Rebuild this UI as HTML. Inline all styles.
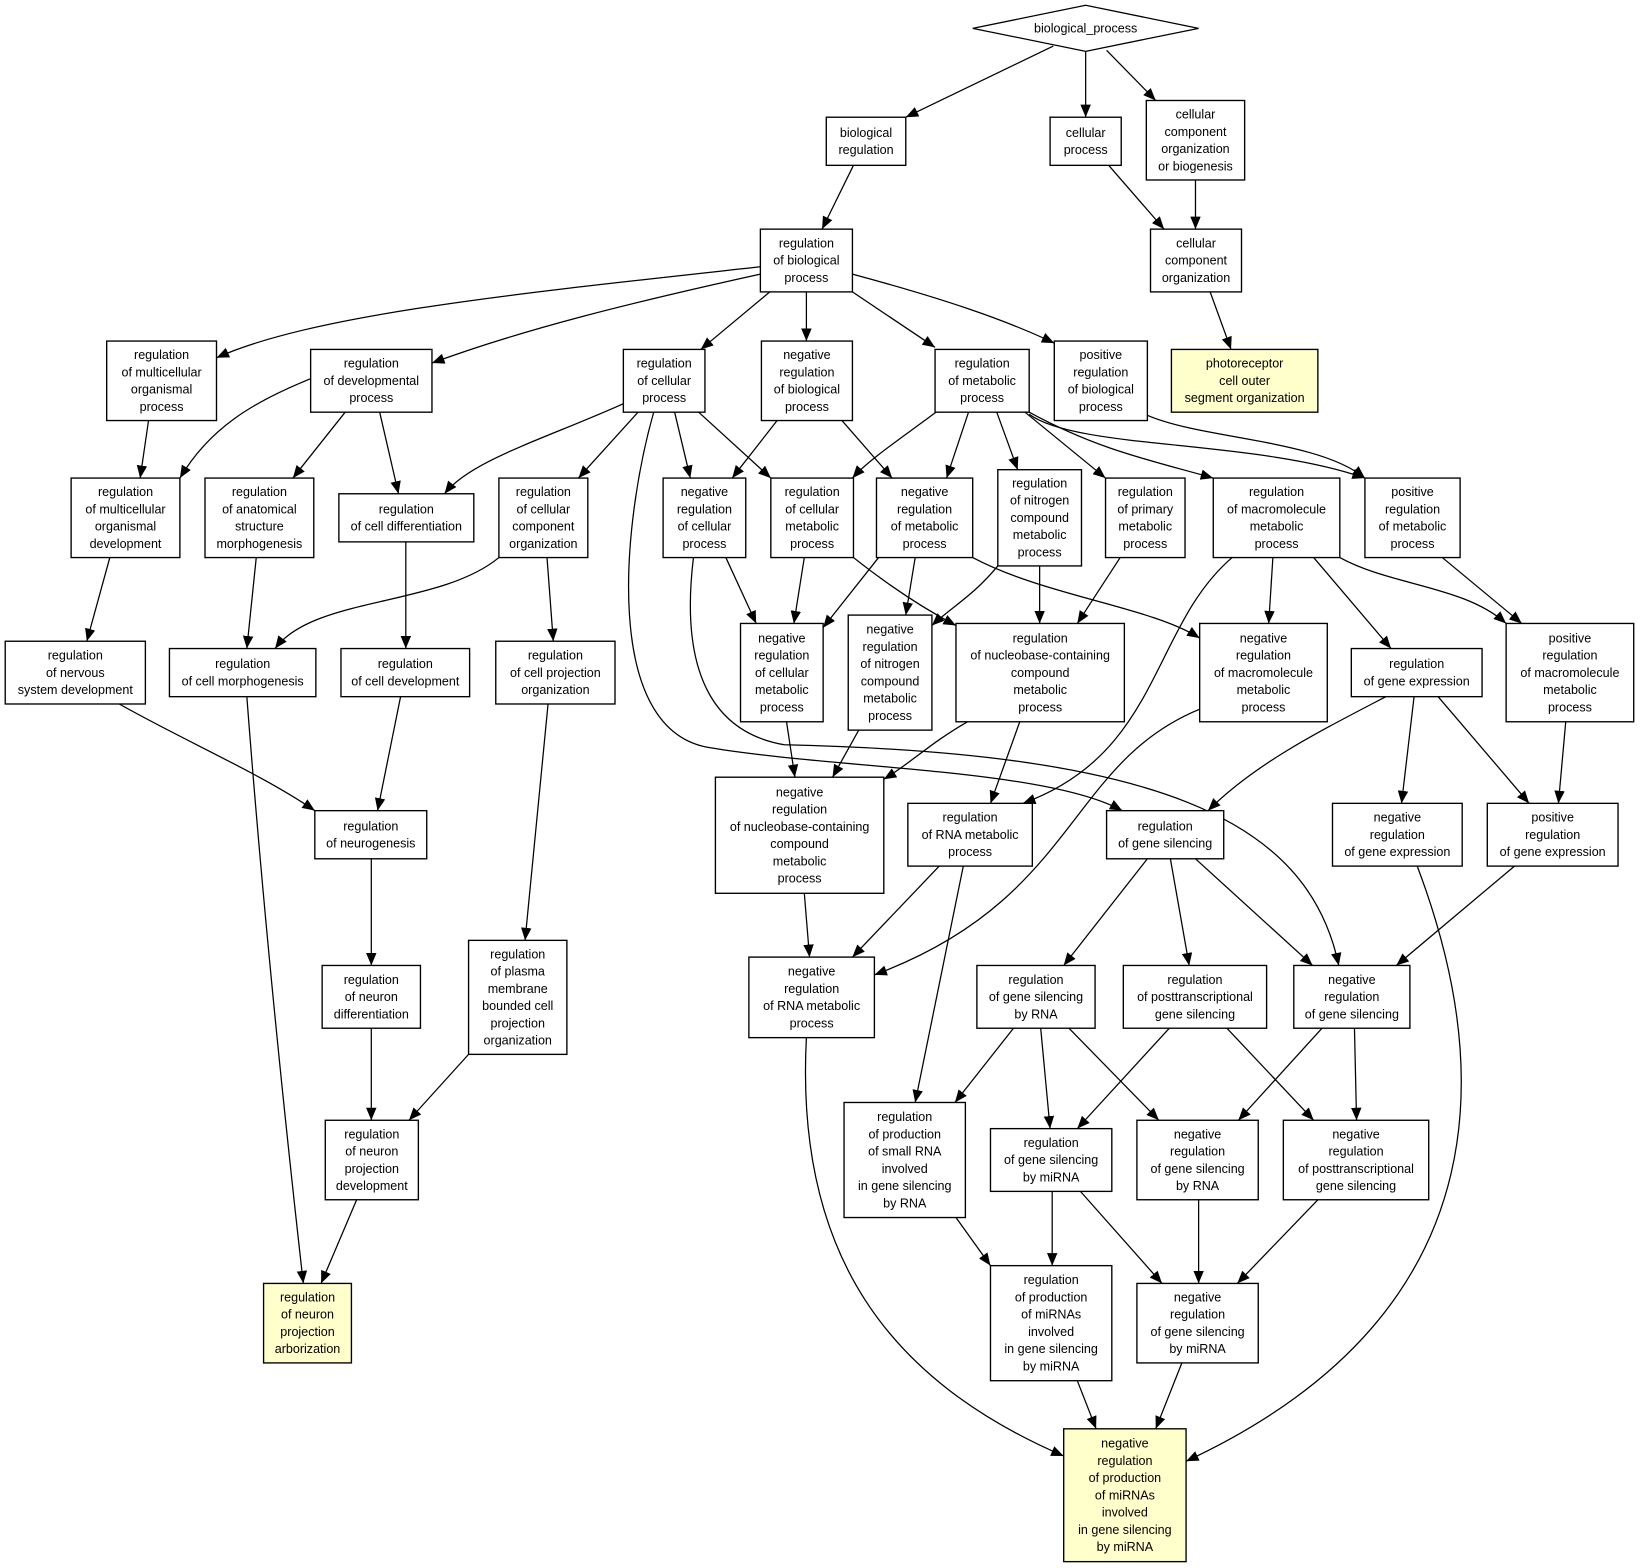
<!DOCTYPE html>
<html><head><meta charset="utf-8"><style>
html,body{margin:0;padding:0;background:#fff}
svg{display:block}
text{font-family:"Liberation Sans",sans-serif;font-size:12px;fill:#000;text-anchor:middle}
rect{fill:#fff;stroke:#000;stroke-width:1.3}
rect.y{fill:#ffffcc}
path{fill:none;stroke:#000;stroke-width:1.2}
</style></head><body>
<svg width="1640" height="1568" viewBox="0 0 1568 1499" xmlns="http://www.w3.org/2000/svg">
<defs><marker id="a" markerWidth="12" markerHeight="10" refX="12" refY="5" orient="auto" markerUnits="userSpaceOnUse"><path d="M0,0 L12,5 L0,10 Z" style="fill:#000;stroke:none"/></marker></defs>
<g marker-end="url(#a)">
<path d="M1007,44 L866,112"/>
<path d="M1038,49 L1038,112"/>
<path d="M1058,48 L1105,96"/>
<path d="M816,158 L786,219"/>
<path d="M1060,158 L1113,219"/>
<path d="M1143,172 L1143,219"/>
<path d="M1157,279 L1177,334"/>
<path d="M727,255 C500,280 300,300 207,342"/>
<path d="M727,262 C600,290 500,315 413,347"/>
<path d="M736,279 L670,334"/>
<path d="M771,279 L771,326"/>
<path d="M815,279 L894,332"/>
<path d="M815,262 C900,285 960,305 1008,328"/>
<path d="M142,402 L134,457"/>
<path d="M297,362 C240,385 200,410 172,457"/>
<path d="M330,394 L280,457"/>
<path d="M363,394 L381,472"/>
<path d="M598,385 C520,420 450,440 425,472"/>
<path d="M610,394 L553,457"/>
<path d="M645,394 L660,457"/>
<path d="M668,394 L737,457"/>
<path d="M625,394 C595,500 575,700 680,715 C800,735 1000,735 1073,775"/>
<path d="M743,402 L700,457"/>
<path d="M805,402 L853,457"/>
<path d="M895,394 C860,420 830,440 815,457"/>
<path d="M926,394 L905,457"/>
<path d="M953,394 L973,449"/>
<path d="M980,394 L1057,457"/>
<path d="M984,394 C1050,430 1100,440 1160,457"/>
<path d="M984,396 C1030,430 1200,420 1305,457"/>
<path d="M1097,397 C1150,420 1260,420 1305,457"/>
<path d="M105,533 L83,613"/>
<path d="M245,533 L236,620"/>
<path d="M388,518 L388,620"/>
<path d="M477,533 C420,580 300,570 263,620"/>
<path d="M523,533 L529,613"/>
<path d="M694,533 L723,596"/>
<path d="M663,533 C650,640 680,700 750,712 C1100,720 1250,780 1280,923"/>
<path d="M769,533 L759,596"/>
<path d="M816,533 C850,560 880,580 914,598"/>
<path d="M840,533 L787,600"/>
<path d="M875,533 L866,588"/>
<path d="M930,533 C1000,570 1100,580 1147,610"/>
<path d="M954,541 C930,570 910,580 891,598"/>
<path d="M994,541 L994,596"/>
<path d="M1071,533 L1030,596"/>
<path d="M1217,533 L1213,596"/>
<path d="M1256,533 L1330,620"/>
<path d="M1281,533 C1330,560 1400,560 1440,596"/>
<path d="M1178,533 C1100,600 1110,720 978,768"/>
<path d="M1379,533 L1455,596"/>
<path d="M114,673 C180,710 250,740 301,775"/>
<path d="M236,666 C250,850 270,1050 290,1227"/>
<path d="M383,666 L361,775"/>
<path d="M524,673 L502,899"/>
<path d="M752,690 L760,743"/>
<path d="M821,698 L796,743"/>
<path d="M925,690 C890,710 870,730 845,745"/>
<path d="M975,690 L947,768"/>
<path d="M1147,678 C1020,730 1030,860 836,932"/>
<path d="M1325,666 C1260,700 1200,730 1155,775"/>
<path d="M1352,666 L1340,768"/>
<path d="M1375,666 L1462,768"/>
<path d="M1497,690 L1490,768"/>
<path d="M355,821 L355,923"/>
<path d="M769,854 L774,915"/>
<path d="M898,828 L815,915"/>
<path d="M921,828 L875,1054"/>
<path d="M1097,821 L1017,923"/>
<path d="M1119,821 L1137,923"/>
<path d="M1143,821 L1255,923"/>
<path d="M1448,828 L1335,923"/>
<path d="M1355,828 C1420,1000 1450,1250 1134,1397"/>
<path d="M355,983 L355,1071"/>
<path d="M448,1008 L391,1071"/>
<path d="M771,992 C760,1200 850,1320 1017,1392"/>
<path d="M969,983 L913,1054"/>
<path d="M995,983 L1004,1079"/>
<path d="M1022,983 L1108,1071"/>
<path d="M1118,983 L1030,1079"/>
<path d="M1173,983 L1256,1071"/>
<path d="M1264,983 L1184,1071"/>
<path d="M1295,983 L1297,1071"/>
<path d="M341,1147 L307,1227"/>
<path d="M914,1164 L947,1210"/>
<path d="M1006,1139 L1006,1210"/>
<path d="M1033,1139 L1111,1227"/>
<path d="M1146,1147 L1146,1227"/>
<path d="M1260,1147 L1183,1227"/>
<path d="M1030,1320 L1048,1366"/>
<path d="M1130,1303 L1105,1366"/>
</g>
<polygon points="930,27 1038,5 1146,27 1038,49" style="fill:#fff;stroke:#000;stroke-width:1.2"/>
<text x="1038" y="31">biological_process</text>

<rect x="790" y="112" width="76" height="46"/><text x="828" y="130.75">biological<tspan x="828" dy="16.5">regulation</tspan></text>
<rect x="1004" y="112" width="68" height="46"/><text x="1038" y="130.75">cellular<tspan x="1038" dy="16.5">process</tspan></text>
<rect x="1096" y="96" width="94" height="76"/><text x="1143" y="113.25">cellular<tspan x="1143" dy="16.5">component</tspan><tspan x="1143" dy="16.5">organization</tspan><tspan x="1143" dy="16.5">or biogenesis</tspan></text>
<rect x="727" y="219" width="88" height="60"/><text x="771" y="236.5">regulation<tspan x="771" dy="16.5">of biological</tspan><tspan x="771" dy="16.5">process</tspan></text>
<rect x="1100" y="219" width="87" height="60"/><text x="1143.5" y="236.5">cellular<tspan x="1143.5" dy="16.5">component</tspan><tspan x="1143.5" dy="16.5">organization</tspan></text>
<rect class="y" x="1120" y="334" width="140" height="60"/><text x="1190" y="351.5">photoreceptor<tspan x="1190" dy="16.5">cell outer</tspan><tspan x="1190" dy="16.5">segment organization</tspan></text>
<rect x="102" y="326" width="105" height="76"/><text x="154.5" y="343.25">regulation<tspan x="154.5" dy="16.5">of multicellular</tspan><tspan x="154.5" dy="16.5">organismal</tspan><tspan x="154.5" dy="16.5">process</tspan></text>
<rect x="297" y="334" width="116" height="60"/><text x="355" y="351.5">regulation<tspan x="355" dy="16.5">of developmental</tspan><tspan x="355" dy="16.5">process</tspan></text>
<rect x="596" y="334" width="78" height="60"/><text x="635" y="351.5">regulation<tspan x="635" dy="16.5">of cellular</tspan><tspan x="635" dy="16.5">process</tspan></text>
<rect x="728" y="326" width="87" height="76"/><text x="771.5" y="343.25">negative<tspan x="771.5" dy="16.5">regulation</tspan><tspan x="771.5" dy="16.5">of biological</tspan><tspan x="771.5" dy="16.5">process</tspan></text>
<rect x="894" y="334" width="90" height="60"/><text x="939" y="351.5">regulation<tspan x="939" dy="16.5">of metabolic</tspan><tspan x="939" dy="16.5">process</tspan></text>
<rect x="1008" y="326" width="89" height="76"/><text x="1052.5" y="343.25">positive<tspan x="1052.5" dy="16.5">regulation</tspan><tspan x="1052.5" dy="16.5">of biological</tspan><tspan x="1052.5" dy="16.5">process</tspan></text>

<rect x="68" y="457" width="104" height="76"/><text x="120" y="474.25">regulation<tspan x="120" dy="16.5">of multicellular</tspan><tspan x="120" dy="16.5">organismal</tspan><tspan x="120" dy="16.5">development</tspan></text>
<rect x="196" y="457" width="104" height="76"/><text x="248" y="474.25">regulation<tspan x="248" dy="16.5">of anatomical</tspan><tspan x="248" dy="16.5">structure</tspan><tspan x="248" dy="16.5">morphogenesis</tspan></text>
<rect x="324" y="472" width="129" height="46"/><text x="388.5" y="490.75">regulation<tspan x="388.5" dy="16.5">of cell differentiation</tspan></text>
<rect x="477" y="457" width="85" height="76"/><text x="519.5" y="474.25">regulation<tspan x="519.5" dy="16.5">of cellular</tspan><tspan x="519.5" dy="16.5">component</tspan><tspan x="519.5" dy="16.5">organization</tspan></text>
<rect x="634" y="457" width="79" height="76"/><text x="673.5" y="474.25">negative<tspan x="673.5" dy="16.5">regulation</tspan><tspan x="673.5" dy="16.5">of cellular</tspan><tspan x="673.5" dy="16.5">process</tspan></text>
<rect x="737" y="457" width="79" height="76"/><text x="776.5" y="474.25">regulation<tspan x="776.5" dy="16.5">of cellular</tspan><tspan x="776.5" dy="16.5">metabolic</tspan><tspan x="776.5" dy="16.5">process</tspan></text>
<rect x="838" y="457" width="92" height="76"/><text x="884" y="474.25">negative<tspan x="884" dy="16.5">regulation</tspan><tspan x="884" dy="16.5">of metabolic</tspan><tspan x="884" dy="16.5">process</tspan></text>
<rect x="954" y="449" width="80" height="92"/><text x="994" y="466">regulation<tspan x="994" dy="16.5">of nitrogen</tspan><tspan x="994" dy="16.5">compound</tspan><tspan x="994" dy="16.5">metabolic</tspan><tspan x="994" dy="16.5">process</tspan></text>
<rect x="1057" y="457" width="76" height="76"/><text x="1095" y="474.25">regulation<tspan x="1095" dy="16.5">of primary</tspan><tspan x="1095" dy="16.5">metabolic</tspan><tspan x="1095" dy="16.5">process</tspan></text>
<rect x="1160" y="457" width="121" height="76"/><text x="1220.5" y="474.25">regulation<tspan x="1220.5" dy="16.5">of macromolecule</tspan><tspan x="1220.5" dy="16.5">metabolic</tspan><tspan x="1220.5" dy="16.5">process</tspan></text>
<rect x="1305" y="457" width="91" height="76"/><text x="1350.5" y="474.25">positive<tspan x="1350.5" dy="16.5">regulation</tspan><tspan x="1350.5" dy="16.5">of metabolic</tspan><tspan x="1350.5" dy="16.5">process</tspan></text>

<rect x="5" y="613" width="134" height="60"/><text x="72" y="630.5">regulation<tspan x="72" dy="16.5">of nervous</tspan><tspan x="72" dy="16.5">system development</tspan></text>
<rect x="162" y="620" width="140" height="46"/><text x="232" y="638.75">regulation<tspan x="232" dy="16.5">of cell morphogenesis</tspan></text>
<rect x="326" y="620" width="123" height="46"/><text x="387.5" y="638.75">regulation<tspan x="387.5" dy="16.5">of cell development</tspan></text>
<rect x="474" y="613" width="114" height="60"/><text x="531" y="630.5">regulation<tspan x="531" dy="16.5">of cell projection</tspan><tspan x="531" dy="16.5">organization</tspan></text>
<rect x="708" y="596" width="79" height="94"/><text x="747.5" y="614">negative<tspan x="747.5" dy="16.5">regulation</tspan><tspan x="747.5" dy="16.5">of cellular</tspan><tspan x="747.5" dy="16.5">metabolic</tspan><tspan x="747.5" dy="16.5">process</tspan></text>
<rect x="811" y="588" width="80" height="110"/><text x="851" y="605.75">negative<tspan x="851" dy="16.5">regulation</tspan><tspan x="851" dy="16.5">of nitrogen</tspan><tspan x="851" dy="16.5">compound</tspan><tspan x="851" dy="16.5">metabolic</tspan><tspan x="851" dy="16.5">process</tspan></text>
<rect x="914" y="596" width="161" height="94"/><text x="994.5" y="614">regulation<tspan x="994.5" dy="16.5">of nucleobase-containing</tspan><tspan x="994.5" dy="16.5">compound</tspan><tspan x="994.5" dy="16.5">metabolic</tspan><tspan x="994.5" dy="16.5">process</tspan></text>
<rect x="1147" y="596" width="122" height="94"/><text x="1208" y="614">negative<tspan x="1208" dy="16.5">regulation</tspan><tspan x="1208" dy="16.5">of macromolecule</tspan><tspan x="1208" dy="16.5">metabolic</tspan><tspan x="1208" dy="16.5">process</tspan></text>
<rect x="1292" y="620" width="125" height="46"/><text x="1354.5" y="638.75">regulation<tspan x="1354.5" dy="16.5">of gene expression</tspan></text>
<rect x="1440" y="596" width="122" height="94"/><text x="1501" y="614">positive<tspan x="1501" dy="16.5">regulation</tspan><tspan x="1501" dy="16.5">of macromolecule</tspan><tspan x="1501" dy="16.5">metabolic</tspan><tspan x="1501" dy="16.5">process</tspan></text>

<rect x="301" y="775" width="107" height="46"/><text x="354.5" y="793.75">regulation<tspan x="354.5" dy="16.5">of neurogenesis</tspan></text>
<rect x="684" y="743" width="161" height="111"/><text x="764.5" y="761.25">negative<tspan x="764.5" dy="16.5">regulation</tspan><tspan x="764.5" dy="16.5">of nucleobase-containing</tspan><tspan x="764.5" dy="16.5">compound</tspan><tspan x="764.5" dy="16.5">metabolic</tspan><tspan x="764.5" dy="16.5">process</tspan></text>
<rect x="868" y="768" width="119" height="60"/><text x="927.5" y="785.5">regulation<tspan x="927.5" dy="16.5">of RNA metabolic</tspan><tspan x="927.5" dy="16.5">process</tspan></text>
<rect x="1058" y="775" width="112" height="46"/><text x="1114" y="793.75">regulation<tspan x="1114" dy="16.5">of gene silencing</tspan></text>
<rect x="1274" y="768" width="124" height="60"/><text x="1336" y="785.5">negative<tspan x="1336" dy="16.5">regulation</tspan><tspan x="1336" dy="16.5">of gene expression</tspan></text>
<rect x="1422" y="768" width="125" height="60"/><text x="1484.5" y="785.5">positive<tspan x="1484.5" dy="16.5">regulation</tspan><tspan x="1484.5" dy="16.5">of gene expression</tspan></text>

<rect x="308" y="923" width="94" height="60"/><text x="355" y="940.5">regulation<tspan x="355" dy="16.5">of neuron</tspan><tspan x="355" dy="16.5">differentiation</tspan></text>
<rect x="448" y="899" width="94" height="109"/><text x="495" y="916.25">regulation<tspan x="495" dy="16.5">of plasma</tspan><tspan x="495" dy="16.5">membrane</tspan><tspan x="495" dy="16.5">bounded cell</tspan><tspan x="495" dy="16.5">projection</tspan><tspan x="495" dy="16.5">organization</tspan></text>
<rect x="716" y="915" width="120" height="77"/><text x="776" y="932.75">negative<tspan x="776" dy="16.5">regulation</tspan><tspan x="776" dy="16.5">of RNA metabolic</tspan><tspan x="776" dy="16.5">process</tspan></text>
<rect x="934" y="923" width="113" height="60"/><text x="990.5" y="940.5">regulation<tspan x="990.5" dy="16.5">of gene silencing</tspan><tspan x="990.5" dy="16.5">by RNA</tspan></text>
<rect x="1074" y="923" width="137" height="60"/><text x="1142.5" y="940.5">regulation<tspan x="1142.5" dy="16.5">of posttranscriptional</tspan><tspan x="1142.5" dy="16.5">gene silencing</tspan></text>
<rect x="1237" y="923" width="111" height="60"/><text x="1292.5" y="940.5">negative<tspan x="1292.5" dy="16.5">regulation</tspan><tspan x="1292.5" dy="16.5">of gene silencing</tspan></text>

<rect x="311" y="1071" width="89" height="76"/><text x="355.5" y="1088.25">regulation<tspan x="355.5" dy="16.5">of neuron</tspan><tspan x="355.5" dy="16.5">projection</tspan><tspan x="355.5" dy="16.5">development</tspan></text>
<rect x="807" y="1054" width="116" height="110"/><text x="865" y="1071.75">regulation<tspan x="865" dy="16.5">of production</tspan><tspan x="865" dy="16.5">of small RNA</tspan><tspan x="865" dy="16.5">involved</tspan><tspan x="865" dy="16.5">in gene silencing</tspan><tspan x="865" dy="16.5">by RNA</tspan></text>
<rect x="947" y="1079" width="116" height="60"/><text x="1005" y="1096.5">regulation<tspan x="1005" dy="16.5">of gene silencing</tspan><tspan x="1005" dy="16.5">by miRNA</tspan></text>
<rect x="1087" y="1071" width="116" height="76"/><text x="1145" y="1088.25">negative<tspan x="1145" dy="16.5">regulation</tspan><tspan x="1145" dy="16.5">of gene silencing</tspan><tspan x="1145" dy="16.5">by RNA</tspan></text>
<rect x="1227" y="1071" width="139" height="76"/><text x="1296.5" y="1088.25">negative<tspan x="1296.5" dy="16.5">regulation</tspan><tspan x="1296.5" dy="16.5">of posttranscriptional</tspan><tspan x="1296.5" dy="16.5">gene silencing</tspan></text>

<rect class="y" x="252" y="1227" width="84" height="76"/><text x="294" y="1244.25">regulation<tspan x="294" dy="16.5">of neuron</tspan><tspan x="294" dy="16.5">projection</tspan><tspan x="294" dy="16.5">arborization</tspan></text>
<rect x="947" y="1210" width="116" height="110"/><text x="1005" y="1227.75">regulation<tspan x="1005" dy="16.5">of production</tspan><tspan x="1005" dy="16.5">of miRNAs</tspan><tspan x="1005" dy="16.5">involved</tspan><tspan x="1005" dy="16.5">in gene silencing</tspan><tspan x="1005" dy="16.5">by miRNA</tspan></text>
<rect x="1087" y="1227" width="116" height="76"/><text x="1145" y="1244.25">negative<tspan x="1145" dy="16.5">regulation</tspan><tspan x="1145" dy="16.5">of gene silencing</tspan><tspan x="1145" dy="16.5">by miRNA</tspan></text>
<rect class="y" x="1017" y="1366" width="117" height="127"/><text x="1075.5" y="1384">negative<tspan x="1075.5" dy="16.5">regulation</tspan><tspan x="1075.5" dy="16.5">of production</tspan><tspan x="1075.5" dy="16.5">of miRNAs</tspan><tspan x="1075.5" dy="16.5">involved</tspan><tspan x="1075.5" dy="16.5">in gene silencing</tspan><tspan x="1075.5" dy="16.5">by miRNA</tspan></text>
</svg>
</body></html>
